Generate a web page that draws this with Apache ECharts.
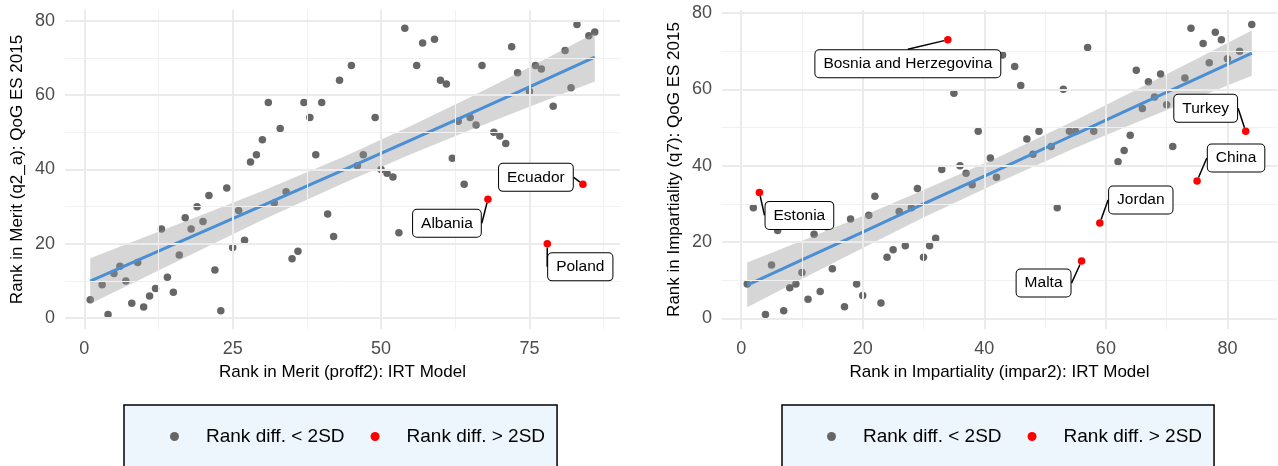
<!DOCTYPE html>
<html><head><meta charset="utf-8">
<script src="https://cdn.jsdelivr.net/npm/echarts@6/dist/echarts.min.js"></script>
<style>html,body{margin:0;padding:0;background:#fff;} #c{width:1278px;height:466px;}</style>
</head><body><div id="c"></div>
<script>
// ---------- DATA: left panel (Merit) ----------
const meritX = [1,3,4,5,6,7,8,9,10,11,12,13,14,15,16,17,18,19,20,21,22,23,24,25,26,27,28,29,30,31,32,33,34,35,36,37,38,39,40,41,42,43,45,46,47,49,50,51,52,53,54,56,57,59,60,61,62,63,64,65,66,67,69,70,71,72,73,75,76,77,79,81,82,83,85,86];
const meritY = [5,9,1,12,14,10,4,15,3,6,8,24,11,7,17,27,24,30,26,33,13,2,35,19,29,21,42,44,48,58,31,51,34,16,18,58,54,44,58,28,22,64,68,41,44,54,40,39,38,23,78,68,74,75,64,63,43,53,36,54,52,68,50,49,47,73,66,61,68,67,57,72,62,79,76,77];
const meritOutNames = ['Albania','Poland','Ecuador'];
const meritOutX = [68,78,84];
const meritOutY = [32,20,36];
const meritFitX  = [1,10,20,30,44,55,65,75,86];
const meritFitY  = [10.0,16.3,23.3,30.3,40.1,47.9,55.0,62.2,70.2];
const meritFitLo = [3.9,10.9,18.7,26.4,36.6,44.1,50.6,56.9,63.7];
const meritFitHi = [16.1,21.7,27.9,34.2,43.6,51.7,59.4,67.5,76.7];
const meritXTicks = [0,25,50,75];
const meritXMinor = [12.5,37.5,62.5,87.5];
const meritYTicks = [0,20,40,60,80];
const meritYMinor = [10,30,50,70];

// ---------- DATA: right panel (Impartiality) ----------
const imparX = [1,2,4,5,6,7,8,9,10,11,12,13,14,15,17,18,19,20,21,22,23,24,25,26,27,28,29,30,31,32,33,35,36,37,38,39,41,42,43,45,46,47,48,49,51,52,53,54,55,57,58,62,63,64,65,66,67,68,69,70,71,72,73,74,76,77,78,79,80,82,84];
const imparY = [9,29,1,14,23,2,8,9,12,5,22,7,24,13,3,26,9,6,27,32,4,16,18,28,19,29,34,16,19,21,39,59,40,38,35,49,42,37,69,66,61,47,43,49,45,29,60,49,49,71,49,41,44,48,65,55,62,58,64,56,45,57,63,76,72,67,75,73,68,70,77];
const imparOutNames = ['Estonia','Bosnia and Herzegovina','Malta','Jordan','China','Turkey'];
const imparOutX = [3,34,56,59,75,83];
const imparOutY = [33,73,15,25,36,49];
const imparFitX  = [1,10,20,30,42,55,65,75,84];
const imparFitY  = [8.7,15.3,22.6,30.0,38.7,48.3,55.6,62.9,69.5];
const imparFitLo = [2.9,10.3,18.4,26.4,35.4,44.7,51.3,57.8,63.6];
const imparFitHi = [14.6,20.3,26.8,33.6,42.0,51.9,59.9,68.0,75.4];
const imparXTicks = [0,20,40,60,80];
const imparXMinor = [10,30,50,70];
const imparYTicks = [0,20,40,60,80];
const imparYMinor = [10,30,50,70];

const legendNames = ['Rank diff. < 2SD','Rank diff. > 2SD'];

// ---------- label offsets (layout, px) ----------
const labelOffsets = {
  'Ecuador':[-47,-7], 'Albania':[-41,24], 'Poland':[33,23],
  'Bosnia and Herzegovina':[-40,24], 'Estonia':[40,23], 'Turkey':[-40,-23],
  'China':[39,-23], 'Jordan':[41,-23], 'Malta':[-38,22]
};

const FONT = '"Liberation Sans", Arial, sans-serif';
const GREY_PT = '#666666', RED_PT = '#ff0000', LINE_C = '#4a8fd4';

function gridSeries(g, xMaj, xMin, yMaj, yMin) {
  const d = [];
  xMin.forEach(v => d.push({xAxis: v, lineStyle:{color:'#f1f1f1', width:1, type:'solid'}}));
  yMin.forEach(v => d.push({yAxis: v, lineStyle:{color:'#f1f1f1', width:1, type:'solid'}}));
  xMaj.forEach(v => d.push({xAxis: v, lineStyle:{color:'#ebebeb', width:2, type:'solid'}}));
  yMaj.forEach(v => d.push({yAxis: v, lineStyle:{color:'#ebebeb', width:2, type:'solid'}}));
  return {
    type:'scatter', xAxisIndex:g, yAxisIndex:g, data:[], silent:true, z:1,
    markLine:{silent:true, symbol:['none','none'], label:{show:false}, animation:false, data:d}
  };
}

function panelSeries(g, X, Y, oN, oX, oY, fX, fY, fLo, fHi) {
  return [
    {
      type:'scatter', name:legendNames[0], xAxisIndex:g, yAxisIndex:g, z:2,
      symbol:'circle', symbolSize:7.5, itemStyle:{color:GREY_PT, opacity:1},
      data: X.map((x,i)=>[x, Y[i]])
    },
    {
      type:'custom', xAxisIndex:g, yAxisIndex:g, z:3, silent:true,
      data: fX.map((x,i)=>[x, fLo[i], fHi[i]]),
      encode:{x:0, y:[1,2]},
      renderItem:function(params, api){
        if (params.dataIndex !== 0) return null;
        const pts = [];
        for (let i=0;i<fX.length;i++) pts.push(api.coord([fX[i], fHi[i]]));
        for (let i=fX.length-1;i>=0;i--) pts.push(api.coord([fX[i], fLo[i]]));
        return {type:'polygon', shape:{points:pts}, style:{fill:'rgba(153,153,153,0.4)', stroke:null}};
      }
    },
    {
      type:'line', xAxisIndex:g, yAxisIndex:g, z:4, silent:true,
      showSymbol:false, symbol:'none', lineStyle:{color:LINE_C, width:3},
      data: fX.map((x,i)=>[x, fY[i]])
    },
    {
      type:'scatter', name:legendNames[1], xAxisIndex:g, yAxisIndex:g, z:5,
      symbol:'circle', symbolSize:7.5, itemStyle:{color:RED_PT, opacity:1},
      data: oX.map((x,i)=>({name:oN[i], value:[x, oY[i]]})),
      label:{
        show:true, position:'inside', formatter:'{b}', color:'#000',
        fontFamily:FONT, fontSize:15.5, backgroundColor:'#ffffff',
        borderColor:'#000', borderWidth:1, borderRadius:4, padding:[6,8,5,8]
      },
      labelLine:{show:true, length2:0, smooth:false, lineStyle:{color:'#000', width:1.5}},
      labelLayout:function(p){
        const o = labelOffsets[oN[p.dataIndex]] || [0,0];
        return {dx:o[0], dy:o[1], hideOverlap:false};
      }
    }
  ];
}

function xAxisOpt(g, min, max, ticks, name) {
  return {
    gridIndex:g, type:'value', min:min, max:max,
    axisLine:{show:false}, axisTick:{show:false}, splitLine:{show:false}, minorSplitLine:{show:false},
    axisLabel:{customValues:ticks, color:'#4d4d4d', fontSize:18, fontFamily:FONT, margin:11},
    name:name, nameLocation:'middle', nameGap:35, nameMoveOverlap:false,
    nameTextStyle:{color:'#000', fontSize:17, fontFamily:FONT}
  };
}
function yAxisOpt(g, min, max, ticks, name) {
  return {
    gridIndex:g, type:'value', min:min, max:max,
    axisLine:{show:false}, axisTick:{show:false}, splitLine:{show:false}, minorSplitLine:{show:false},
    axisLabel:{customValues:ticks, color:'#4d4d4d', fontSize:18, fontFamily:FONT, margin:10},
    name:name, nameLocation:'middle', nameGap:39, nameMoveOverlap:false,
    nameTextStyle:{color:'#000', fontSize:17, fontFamily:FONT}
  };
}
function legendOpt(left, padL) {
  return {
    left:left, top:405, orient:'horizontal',
    data: legendNames.map(n=>({name:n, icon:'circle'})),
    itemWidth:9, itemHeight:9, itemGap:26,
    textStyle:{color:'#000', fontSize:19, fontFamily:FONT, padding:[0,0,0,22]},
    backgroundColor:'#eef6fd', borderColor:'#000', borderWidth:1.5, borderRadius:0,
    padding:[22,12,40,padL], selectedMode:false
  };
}

const chart = echarts.init(document.getElementById('c'), null, {renderer:'canvas'});
chart.setOption({
  animation:false,
  backgroundColor:'#ffffff',
  grid:[
    {left:65, right:1278-620, top:10, bottom:466-329},
    {left:722, right:1, top:10, bottom:466-329}
  ],
  xAxis:[
    xAxisOpt(0, -3.25, 90.25, meritXTicks, 'Rank in Merit (proff2): IRT Model'),
    xAxisOpt(1, -3.15, 88.15, imparXTicks, 'Rank in Impartiality (impar2): IRT Model')
  ],
  yAxis:[
    yAxisOpt(0, -2.9, 82.9, meritYTicks, 'Rank in Merit (q2_a): QoG ES 2015'),
    yAxisOpt(1, -2.8, 80.8, imparYTicks, 'Rank in Impartiality (q7): QoG ES 2015')
  ],
  legend:[ legendOpt(124, 46), legendOpt(782, 45) ],
  series:[
    gridSeries(0, meritXTicks, meritXMinor, meritYTicks, meritYMinor),
    gridSeries(1, imparXTicks, imparXMinor, imparYTicks, imparYMinor),
    ...panelSeries(0, meritX, meritY, meritOutNames, meritOutX, meritOutY, meritFitX, meritFitY, meritFitLo, meritFitHi),
    ...panelSeries(1, imparX, imparY, imparOutNames, imparOutX, imparOutY, imparFitX, imparFitY, imparFitLo, imparFitHi)
  ]
});
</script></body></html>
